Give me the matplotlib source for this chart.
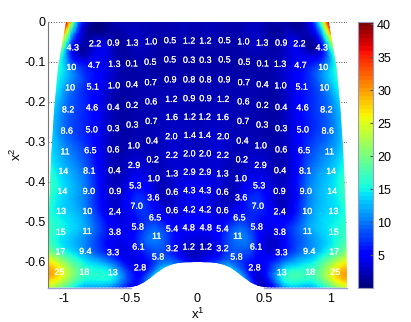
import numpy as np
import matplotlib
matplotlib.use('Agg')
import matplotlib.pyplot as plt
import matplotlib.tri as mtri
import matplotlib.patheffects as pe
from matplotlib.patches import Polygon

plt.rcParams['font.family'] = ['Liberation Sans', 'DejaVu Sans']
plt.rcParams['mathtext.fontset'] = 'custom'
plt.rcParams['mathtext.rm'] = 'Liberation Sans'

# values printed on the map, left half (the map is mirrored about x1 = 0)
labels = [
    [4.3, 2.2, 0.9, 1.3, 1.0, 0.5, 1.2],
    [10, 4.7, 1.3, 0.1, 0.5, 0.5, 0.3],
    [10, 5.1, 1.0, 0.4, 0.7, 0.9, 0.8],
    [8.2, 4.6, 0.4, 0.2, 0.6, 1.2, 0.9],
    [8.6, 5.0, 0.3, 0.3, 0.7, 1.6, 1.2],
    [11, 6.5, 0.6, 1.0, 0.4, 2.0, 1.4],
    [14, 8.1, 0.4, 2.9, 0.2, 2.2, 2.0],
    [14, 9.0, 0.9, 5.3, 1.0, 1.3, 2.9],
    [13, 10, 2.4, 7.0, 3.6, 0.6, 4.3],
    [15, 11, 3.8, 5.8, 6.5, 0.6, 4.2],
    [17, 9.4, 3.3, 6.1, 11, 5.4, 4.8],
    [25, 18, 13, 2.8, 5.8, 3.2, 1.2],
]
x1_pts = [
    [-0.933, -0.766, -0.629, -0.487, -0.346, -0.204, -0.061],
    [-0.944, -0.774, -0.621, -0.491, -0.352, -0.204, -0.061],
    [-0.953, -0.783, -0.624, -0.489, -0.349, -0.202, -0.061],
    [-0.968, -0.789, -0.629, -0.489, -0.346, -0.194, -0.061],
    [-0.978, -0.791, -0.629, -0.487, -0.344, -0.191, -0.056],
    [-0.991, -0.801, -0.629, -0.476, -0.339, -0.194, -0.056],
    [-1.004, -0.809, -0.621, -0.474, -0.334, -0.191, -0.059],
    [-1.011, -0.813, -0.616, -0.464, -0.326, -0.189, -0.059],
    [-1.021, -0.824, -0.618, -0.454, -0.329, -0.189, -0.059],
    [-1.023, -0.826, -0.618, -0.446, -0.316, -0.189, -0.059],
    [-1.026, -0.839, -0.631, -0.441, -0.304, -0.189, -0.064],
    [-1.034, -0.846, -0.633, -0.429, -0.294, -0.189, -0.064],
]
x2_pts = [
    [-0.066, -0.056, -0.054, -0.054, -0.051, -0.048, -0.049],
    [-0.115, -0.110, -0.107, -0.106, -0.102, -0.096, -0.097],
    [-0.166, -0.164, -0.161, -0.158, -0.153, -0.146, -0.146],
    [-0.221, -0.216, -0.215, -0.210, -0.201, -0.195, -0.193],
    [-0.274, -0.271, -0.268, -0.259, -0.250, -0.240, -0.239],
    [-0.326, -0.323, -0.321, -0.311, -0.299, -0.288, -0.285],
    [-0.375, -0.374, -0.373, -0.360, -0.346, -0.335, -0.331],
    [-0.425, -0.425, -0.425, -0.411, -0.393, -0.381, -0.377],
    [-0.475, -0.475, -0.476, -0.462, -0.441, -0.427, -0.423],
    [-0.527, -0.525, -0.527, -0.514, -0.491, -0.473, -0.471],
    [-0.576, -0.575, -0.578, -0.564, -0.537, -0.519, -0.516],
    [-0.627, -0.627, -0.628, -0.616, -0.589, -0.568, -0.564],
]

# field under the printed numbers (smoother than the numbers)
field = [
    [5.0, 3.0, 2.0, 2.2, 2.0, 1.7, 1.9],
    [10, 5.0, 2.4, 1.6, 1.6, 1.5, 1.5],
    [10, 5.5, 2.2, 1.6, 1.8, 1.8, 1.8],
    [9.0, 5.5, 2.0, 1.6, 2.0, 2.2, 2.0],
    [9.0, 5.5, 2.0, 1.7, 2.0, 2.4, 2.2],
    [11, 6.5, 2.0, 2.2, 2.0, 2.8, 2.4],
    [13, 8.0, 2.0, 3.2, 2.2, 3.0, 2.6],
    [14, 9.0, 2.4, 5.2, 2.8, 2.8, 3.2],
    [14, 10, 3.2, 7.0, 4.2, 2.6, 4.2],
    [15, 11, 4.6, 5.8, 6.5, 3.0, 4.4],
    [17, 11, 5.2, 6.2, 10, 5.6, 4.6],
    [27, 17, 14, 4.0, 8.0, 6.0, 2.6],
]
edge_x1 = [-1.015, -1.04, -1.055, -1.07, -1.08, -1.09, -1.097, -1.103, -1.108, -1.112, -1.115, -1.117]
edge_val = [20, 16, 15, 13, 13, 14, 16, 17, 16, 17, 21, 30]
centre_val = [1.7, 1.5, 1.7, 1.9, 2.1, 2.3, 2.5, 3.2, 4.2, 4.4, 4.4, 2.6]

top_x1 = [-0.98, -0.965, -0.84, -0.629, -0.487, -0.346, -0.204, -0.061, 0]
top_x2 = [0, 0, 0, 0, 0, 0, 0, 0, 0]
top_val = [38, 32, 4, 1.9, 1.9, 1.9, 1.9, 1.9, 1.9]

bottom_x1 = [-1.117, -1.034, -0.846, -0.633, -0.429, -0.294, -0.189, -0.064, 0]
bottom_x2 = [-0.665, -0.665, -0.665, -0.665, -0.665, -0.645, -0.625, -0.618, -0.617]
bottom_val = [24, 20, 12, 10, 6, 19, 15, 9, 5]

# underside of the domain, left half
bump_x1 = [-0.55, -0.5, -0.45, -0.40, -0.35, -0.30, -0.25, -0.20, -0.15, -0.10, 0]
bump_x2 = [-0.665, -0.664, -0.66, -0.652, -0.64, -0.627, -0.615, -0.608, -0.604, -0.602, -0.601]

xticks = [-1, -0.5, 0, 0.5, 1]
xticklabels = ['-1', '-0.5', '0', '0.5', '1']
yticks = [0, -0.1, -0.2, -0.3, -0.4, -0.5, -0.6]
yticklabels = ['0', '-0.1', '-0.2', '-0.3', '-0.4', '-0.5', '-0.6']
cbar_ticks = [5, 10, 15, 20, 25, 30, 35, 40]

# build the mirrored node table
half_x = np.vstack([top_x1, np.column_stack([edge_x1, x1_pts, np.zeros(12)]), bottom_x1])
half_y = np.vstack([top_x2, np.column_stack([[p[0] for p in x2_pts], x2_pts, [p[-1] for p in x2_pts]]), bottom_x2])
half_v = np.vstack([top_val, np.column_stack([edge_val, field, centre_val]), bottom_val])

X = np.hstack([half_x, -half_x[:, -2::-1]])
Y = np.hstack([half_y, half_y[:, -2::-1]])
V = np.hstack([half_v, half_v[:, -2::-1]])

nr, nc = X.shape
ids = np.arange(nr * nc).reshape(nr, nc)
tris = np.vstack([
    np.column_stack([ids[:-1, :-1].ravel(), ids[:-1, 1:].ravel(), ids[1:, 1:].ravel()]),
    np.column_stack([ids[:-1, :-1].ravel(), ids[1:, 1:].ravel(), ids[1:, :-1].ravel()]),
])
tri = mtri.Triangulation(X.ravel(), Y.ravel(), tris)
tri_fine, v_fine = mtri.UniformTriRefiner(tri).refine_field(V.ravel(), subdiv=3)

fig = plt.figure(figsize=(4.11, 3.22), dpi=100)
ax = fig.add_axes([48.3 / 411, 1 - 287.5 / 322, 298.7 / 411, 266 / 322])
pc = ax.tripcolor(tri_fine, v_fine, shading='gouraud', cmap=plt.get_cmap('jet', 256), vmin=0.1, vmax=40.4)

# cut the mesh along the smooth underside
under = list(zip(bump_x1, bump_x2)) + [(-a, b) for a, b in zip(bump_x1[-2::-1], bump_x2[-2::-1])]
clip = Polygon([(-1.2, 0), (-1.2, -0.665)] + under + [(1.2, -0.665), (1.2, 0)], transform=ax.transData)
pc.set_clip_path(clip)

halo = [pe.withStroke(linewidth=0.12, foreground='white')]
for r in range(12):
    for c in range(7):
        val = labels[r][c]
        txt = '%d' % val if val >= 10 else '%.1f' % val
        for sign in (1, -1):
            ax.text(sign * x1_pts[r][c], x2_pts[r][c], txt, color='white', fontsize=6.4,
                    ha='center', va='center', path_effects=halo)

ax.set_xlim(-1.117, 1.122)
ax.set_ylim(-0.665, 0)
ax.set_xticks(xticks)
ax.set_xticklabels(xticklabels)
ax.set_yticks(yticks)
ax.set_yticklabels(yticklabels)
ax.tick_params(labelsize=9, length=0, pad=2)
ax.tick_params(axis='x', pad=4)
# dotted ticks, the map covers most of them
for yt in yticks:
    ax.plot([-1.117, -1.0], [yt, yt], ':', color='#555555', lw=0.7, zorder=0.5)
    ax.plot([1.122, 1.0], [yt, yt], ':', color='#555555', lw=0.7, zorder=0.5)
# the bottom line only shows under the flat parts of the map
ax.plot([-1.117, -0.5], [-0.665, -0.665], color='#a0a0d8', lw=1, clip_on=False, zorder=3)
ax.plot([0.5, 1.122], [-0.665, -0.665], color='#a0a0d8', lw=1, clip_on=False, zorder=3)
for s in ['top', 'right', 'bottom']:
    ax.spines[s].set_visible(False)
ax.spines['left'].set_color('#777777')
ax.set_xlabel('x$^1$', fontsize=9.5)
ax.xaxis.set_label_coords(0.5, -0.072)
ax.set_ylabel('x$^2$', fontsize=9.5)
ax.yaxis.set_label_coords(-0.08, 0.5)

cax = fig.add_axes([358 / 411, 1 - 287.5 / 322, 15 / 411, 266 / 322])
sm = plt.cm.ScalarMappable(norm=pc.norm, cmap=plt.get_cmap('jet', 64))
cb = fig.colorbar(sm, cax=cax)
cb.set_ticks(cbar_ticks)
cb.ax.tick_params(labelsize=9, length=2, direction='in', color='#555555', pad=3)
cb.outline.set_edgecolor('#9a9ac0')

fig.savefig('out.png', dpi=100)
